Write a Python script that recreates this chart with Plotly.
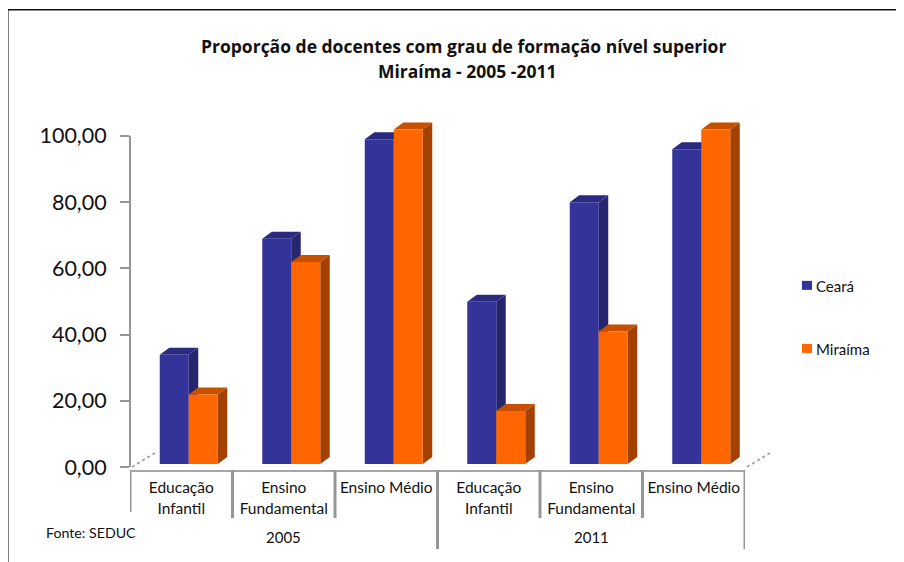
import plotly.graph_objects as go

years = ["2005", "2011"]
levels = ["Educação<br>Infantil", "Ensino<br>Fundamental", "Ensino Médio",
          "Educação<br>Infantil", "Ensino<br>Fundamental", "Ensino Médio"]
ceara = [33, 68, 98, 49, 79, 95]
miraima = [21, 61, 101, 16, 40, 101]
y_ticks = [0, 20, 40, 60, 80, 100]
y_labels = ["0,00", "20,00", "40,00", "60,00", "80,00", "100,00"]
title_lines = ["Proporção de docentes com grau de formação nível superior", "Miraíma - 2005 -2011"]
source = "Fonte: SEDUC"

# The page body has an 8px margin, so the figure starts at (8, 8) of the window.
OFF = 8
W, H = 904 - OFF, 562 - OFF
LEFT, RIGHT, Y0, Y100, FLOOR = 130, 745, 467, 136, 470
unit = (Y0 - Y100) / 100
group_px = (RIGHT - LEFT) / 6
TOP_VAL = 112
plot_top = Y0 - TOP_VAL * unit
bar_w = 29 / group_px
shift = 7.5 / group_px
dx = 9.5 / group_px
dy = 7 / unit
BASE_LIFT = 3

BLUE, BLUE_SIDE, BLUE_TOP = "#333399", "#26266f", "#2a2a80"
ORANGE, ORANGE_SIDE, ORANGE_TOP = "#ff6600", "#a34100", "#c75000"
GREY = "#969696"
FONT = "Lato"
TITLE_FONT = "Open Sans"
INK = "#111111"

def xp(px):
    return (px - LEFT) / (RIGHT - LEFT)
def yp(py):
    return (FLOOR - py) / (FLOOR - plot_top)

idx = list(range(len(levels)))
fig = go.Figure()
fig.add_trace(go.Bar(x=idx, y=ceara, name="Ceará", marker=dict(color=BLUE, line_width=0), width=bar_w,
                     offset=shift - bar_w, xaxis="x", yaxis="y2", showlegend=False))
fig.add_trace(go.Bar(x=idx, y=miraima, name="Miraíma", marker=dict(color=ORANGE, line_width=0), width=bar_w,
                     offset=shift, xaxis="x", yaxis="y2", showlegend=False))

shapes = []
def faces(values, x0_off, side, top):
    for i, v in zip(idx, values):
        a, b = i + x0_off, i + x0_off + bar_w
        shapes.append(dict(type="path", xref="x", yref="y2", layer="below", line_width=0, fillcolor=side,
                           path=f"M{b},0 L{b+dx},{dy} L{b+dx},{v+dy} L{b},{v} Z"))
        shapes.append(dict(type="path", xref="x", yref="y2", layer="below", line_width=0, fillcolor=top,
                           path=f"M{a},{v} L{a+dx},{v+dy} L{b+dx},{v+dy} L{b},{v} Z"))
faces(ceara, shift - bar_w, BLUE_SIDE, BLUE_TOP)
faces(miraima, shift, ORANGE_SIDE, ORANGE_TOP)

def vline(xv, py_end):
    shapes.append(dict(type="line", xref="x", yref="paper", x0=xv, x1=xv, y0=yp(FLOOR), y1=yp(py_end),
                       line=dict(color=GREY, width=3)))
# value axis line
shapes.append(dict(type="line", xref="paper", yref="y", x0=0, x1=0, y0=0, y1=100, line=dict(color=GREY, width=2)))
# category dividers
vline(-0.5, 512)
vline(0.5, 518)
vline(1.5, 518)
vline(2.5, 549)
vline(3.5, 518)
vline(4.5, 518)
vline(5.5, 549)
# floor edges
for x_end in (0, 1):
    shapes.append(dict(type="line", xref="paper", yref="y",
                       x0=x_end + 2 / (RIGHT - LEFT), x1=x_end + 25 / (RIGHT - LEFT),
                       y0=0, y1=14 / unit,
                       line=dict(color="#a6a6a6", width=2, dash="dot")))
# outer frame
shapes.append(dict(type="line", xref="paper", yref="paper", x0=xp(8), x1=xp(8), y0=yp(10), y1=yp(562),
                   line=dict(color="#555555", width=1.5)))
shapes.append(dict(type="line", xref="paper", yref="paper", x0=xp(8), x1=xp(904), y0=yp(10), y1=yp(10),
                   line=dict(color="#111111", width=1.5)))

# legend keys
legend_y = [286, 349]
for cy, col in zip(legend_y, (BLUE, ORANGE)):
    shapes.append(dict(type="rect", xref="paper", yref="paper", x0=xp(802), x1=xp(812), y0=yp(cy - 5), y1=yp(cy + 4),
                       fillcolor=col, line_width=0))

def label(text, px, py, size, anchor="center", family=FONT):
    return dict(text=text, xref="paper", yref="paper", x=xp(px), y=yp(py), showarrow=False,
                xanchor=anchor, yanchor="middle", font=dict(family=family, size=size, color=INK))

annotations = [
    label(f"<b>{title_lines[0]}</b>", 463, 46, 17.5, family=TITLE_FONT),
    label(f"<b>{title_lines[1]}</b>", 467, 71, 17.5, family=TITLE_FONT),
    label(source, 44, 532, 14.2, "left"),
    label("Ceará", 814, 286, 15, "left"),
    label("Miraíma", 814, 349, 15, "left"),
    dict(text=years[0], xref="x", yref="paper", x=sum(idx[:3]) / 3, y=yp(537), showarrow=False,
         font=dict(family=FONT, size=15, color=INK), yanchor="middle"),
    dict(text=years[1], xref="x", yref="paper", x=sum(idx[3:]) / 3, y=yp(537), showarrow=False,
         font=dict(family=FONT, size=15, color=INK), yanchor="middle"),
]

fig.update_layout(
    width=W, height=H, autosize=False,
    margin=dict(l=LEFT - OFF, r=W - (RIGHT - OFF), t=plot_top - OFF, b=H - (FLOOR - OFF), pad=0),
    paper_bgcolor="white", plot_bgcolor="white",
    barmode="overlay", shapes=shapes, annotations=annotations, showlegend=False,
    font=dict(family=FONT, color=INK),
    xaxis=dict(range=[-0.5, 5.5], tickvals=idx, ticktext=levels, showgrid=False, zeroline=False, showline=True,
               linecolor="#a6a6a6", linewidth=1.5, ticks="", tickangle=0, tickfont=dict(size=15.5, color=INK),
               ticklabelstandoff=3),
    yaxis=dict(range=[-(FLOOR - Y0) / unit, TOP_VAL], tickvals=y_ticks, ticktext=y_labels, showgrid=False,
               zeroline=False, showline=False, ticks="outside", ticklen=9, tickwidth=2, tickcolor=GREY,
               ticklabelstandoff=9, tickfont=dict(size=21.5, color=INK)),
    yaxis2=dict(range=[-(FLOOR - Y0 + BASE_LIFT) / unit, TOP_VAL - BASE_LIFT / unit], overlaying="y",
                visible=False, anchor="x"),
)
fig.write_html("out.html")
